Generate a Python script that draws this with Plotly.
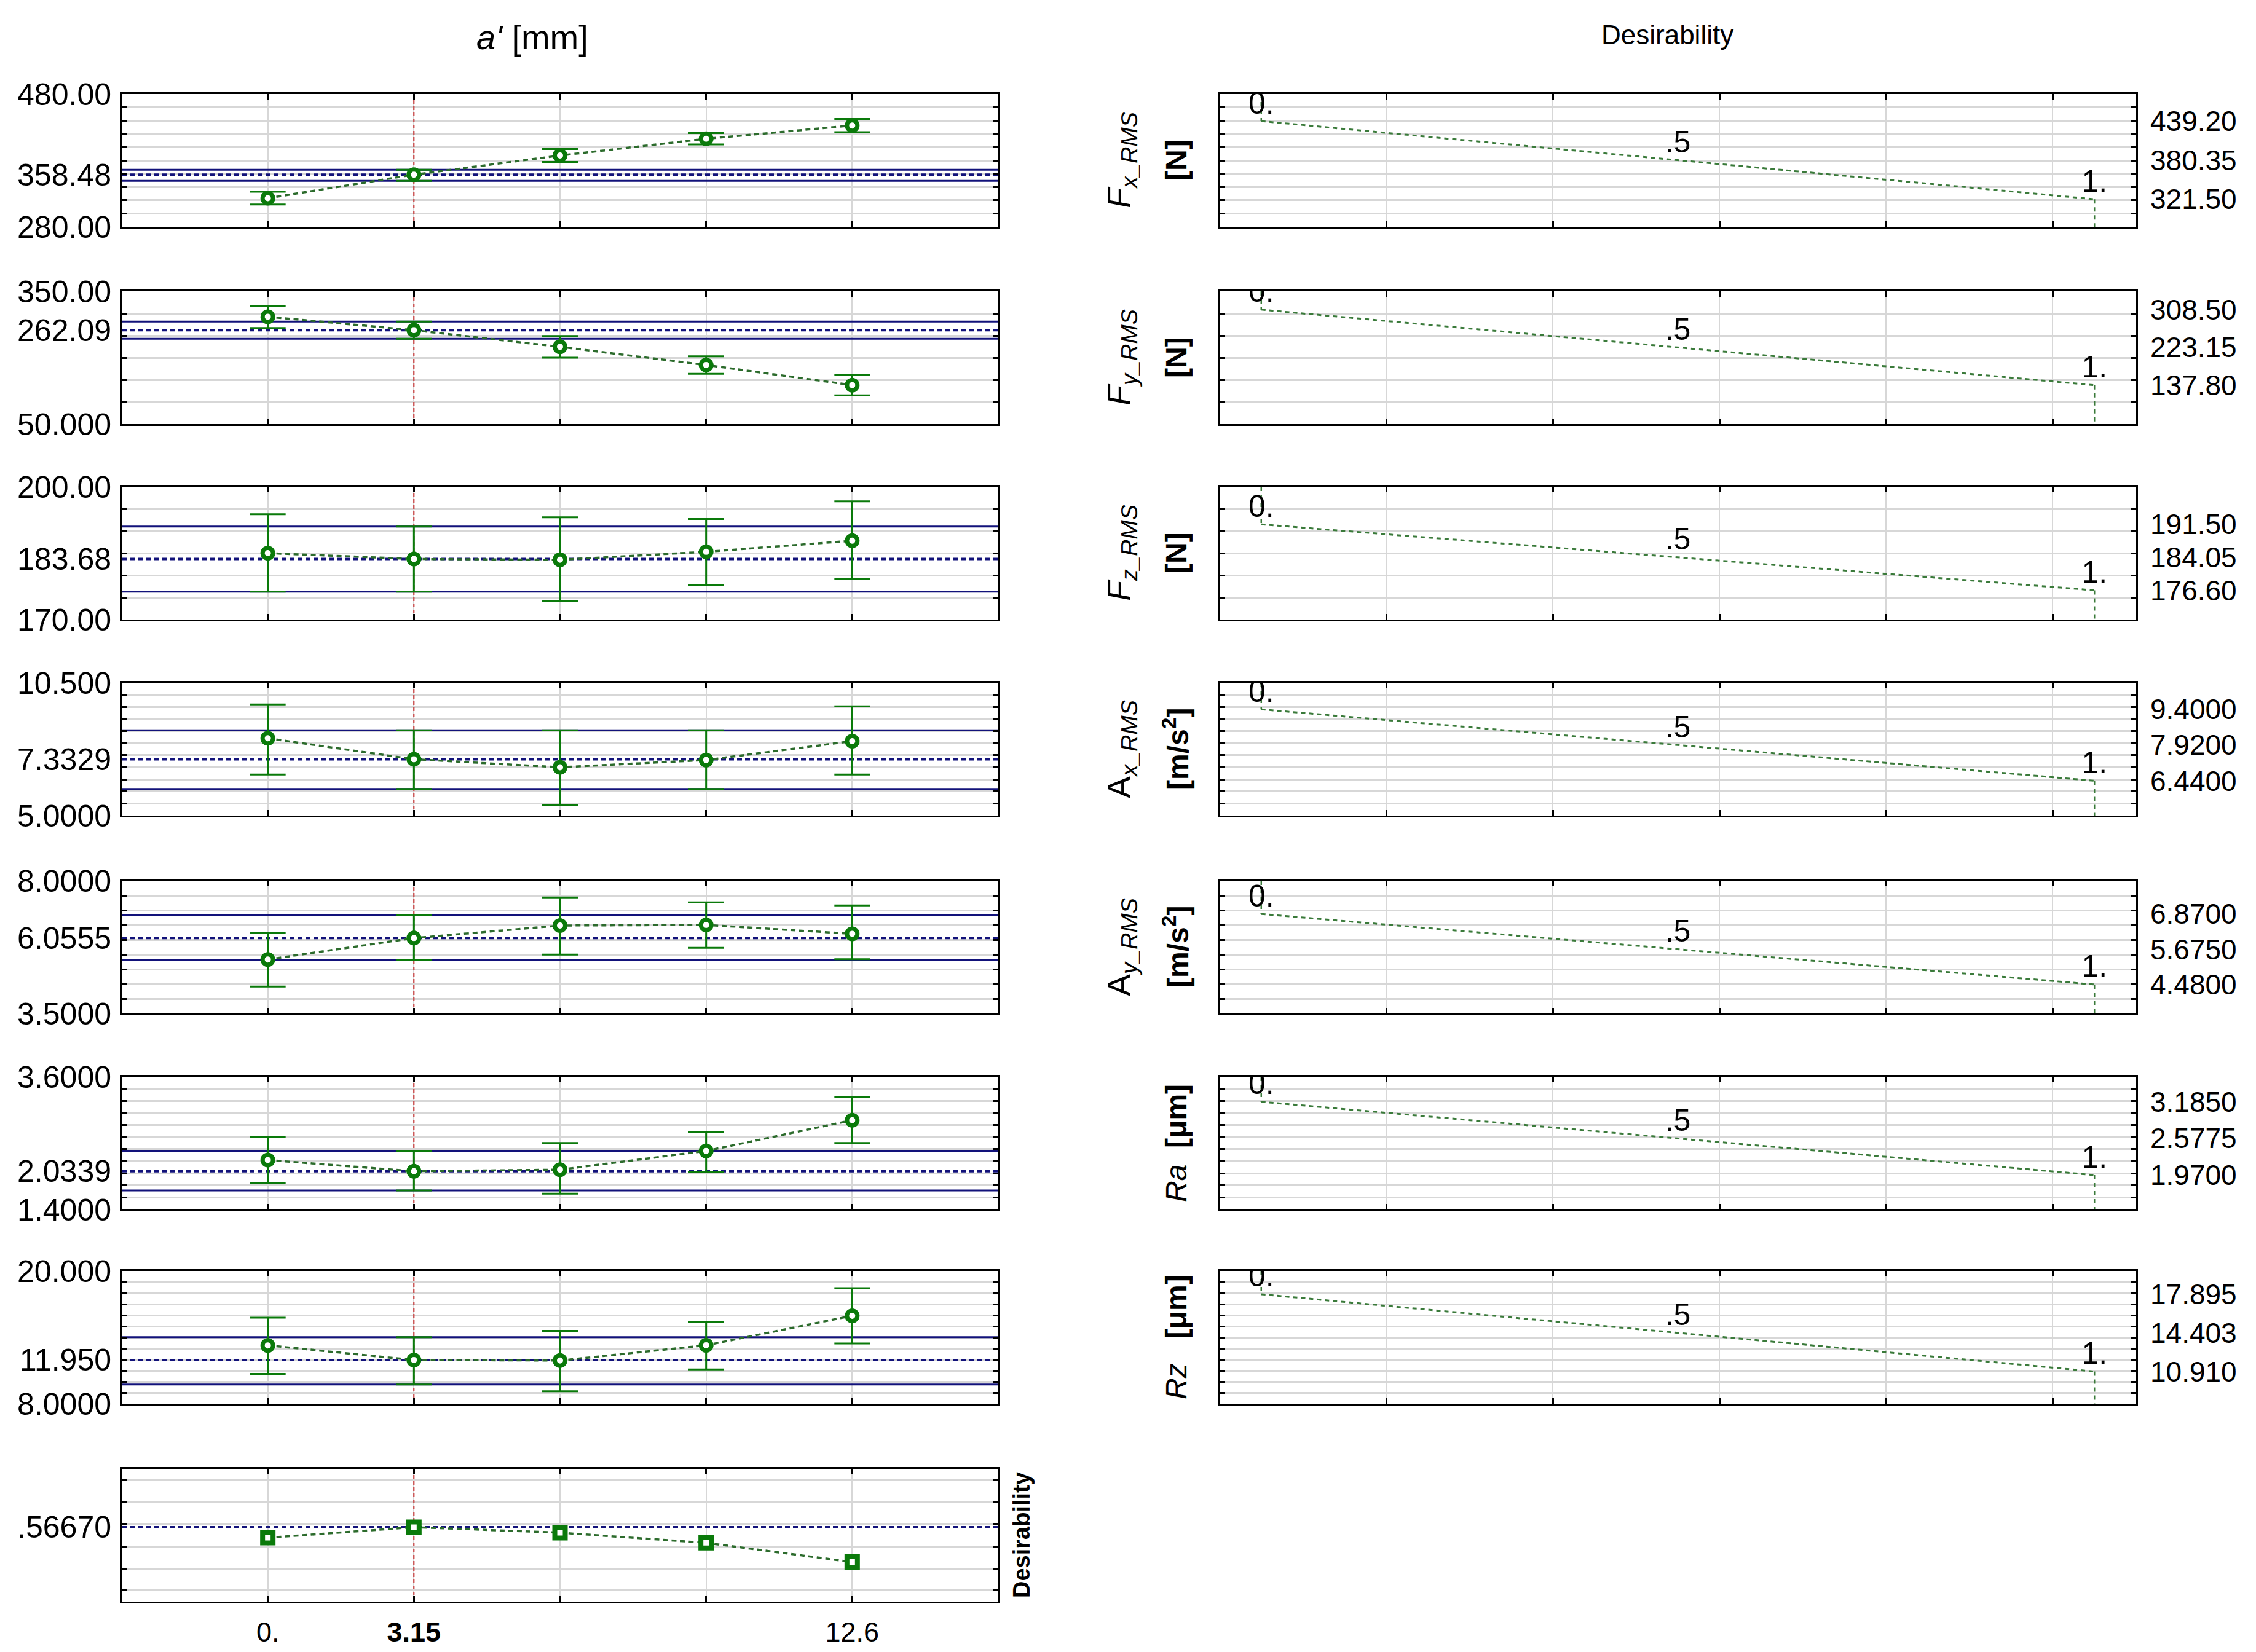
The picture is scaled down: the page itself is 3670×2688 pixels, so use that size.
import plotly.graph_objects as go

FIG_W, FIG_H = 3670, 2688

# ---------------- data ----------------
x_levels = [0.0, 3.15, 6.3, 9.45, 12.6]
x_current = 3.15
x_range = [-3.15, 15.75]
x_label_vals = [0.0, 3.15, 12.6]
x_label_text = ["0.", "<b>3.15</b>", "12.6"]

# Fx_RMS [N]
fx_pred = [323.1, 358.48, 387.4, 412.6, 432.6]
fx_upper = [332.7, 365.9, 397.2, 421.1, 442.5]
fx_lower = [313.5, 349.1, 377.7, 404.0, 422.6]
fx_range = [280.0, 480.0]
fx_grid = [300, 320, 340, 360, 380, 400, 420, 440, 460]
fx_axis_text = ["280.00", "358.48", "480.00"]
fx_desir_vals = [439.20, 380.35, 321.50]
fx_desir_text = ["439.20", "380.35", "321.50"]

# Fy_RMS [N]
fy_pred = [292.5, 262.09, 224.5, 183.5, 138.0]
fy_upper = [316.8, 281.7, 249.1, 203.2, 160.4]
fy_lower = [267.0, 242.8, 200.0, 163.6, 115.1]
fy_range = [50.0, 350.0]
fy_grid = [100, 150, 200, 250, 300]
fy_axis_text = ["50.000", "262.09", "350.00"]
fy_desir_vals = [308.50, 223.15, 137.80]
fy_desir_text = ["308.50", "223.15", "137.80"]

# Fz_RMS [N]
fz_pred = [185.0, 183.68, 183.5, 185.3, 187.8]
fz_upper = [193.8, 191.0, 193.1, 192.7, 196.7]
fz_lower = [176.3, 176.3, 174.1, 177.7, 179.2]
fz_range = [170.0, 200.0]
fz_grid = [175, 180, 185, 190, 195]
fz_axis_text = ["170.00", "183.68", "200.00"]
fz_desir_vals = [191.50, 184.05, 176.60]
fz_desir_text = ["191.50", "184.05", "176.60"]

# Ax_RMS [m/s2]
ax_pred = [8.20, 7.3329, 7.00, 7.30, 8.08]
ax_upper = [9.604, 8.536, 8.536, 8.536, 9.526]
ax_lower = [6.697, 6.100, 5.440, 6.100, 6.697]
ax_range = [5.0, 10.5]
ax_grid = [5.5, 6.0, 6.5, 7.0, 7.5, 8.0, 8.5, 9.0, 9.5, 10.0]
ax_axis_text = ["5.0000", "7.3329", "10.500"]
ax_desir_vals = [9.40, 7.92, 6.44]
ax_desir_text = ["9.4000", "7.9200", "6.4400"]

# Ay_RMS [m/s2]
ay_pred = [5.33, 6.0555, 6.48, 6.50, 6.20]
ay_upper = [6.239, 6.843, 7.434, 7.267, 7.164]
ay_lower = [4.413, 5.300, 5.493, 5.724, 5.339]
ay_range = [3.5, 8.0]
ay_grid = [4.0, 4.5, 5.0, 5.5, 6.0, 6.5, 7.0, 7.5]
ay_axis_text = ["3.5000", "6.0555", "8.0000"]
ay_desir_vals = [6.870, 5.675, 4.480]
ay_desir_text = ["6.8700", "5.6750", "4.4800"]

# Ra [um]
ra_pred = [2.22, 2.0339, 2.06, 2.37, 2.88]
ra_upper = [2.602, 2.365, 2.503, 2.681, 3.258]
ra_lower = [1.840, 1.715, 1.663, 2.024, 2.503]
ra_range = [1.4, 3.6]
ra_grid = [1.6, 1.8, 2.0, 2.2, 2.4, 2.6, 2.8, 3.0, 3.2, 3.4]
ra_axis_text = ["1.4000", "2.0339", "3.6000"]
ra_desir_vals = [3.1850, 2.5775, 1.9700]
ra_desir_text = ["3.1850", "2.5775", "1.9700"]

# Rz [um]
rz_pred = [13.27, 11.95, 11.90, 13.28, 15.95]
rz_upper = [15.78, 14.02, 14.59, 15.42, 18.45]
rz_lower = [10.70, 9.73, 9.12, 11.10, 13.44]
rz_range = [8.0, 20.0]
rz_grid = [9, 10, 11, 12, 13, 14, 15, 16, 17, 18, 19]
rz_axis_text = ["8.0000", "11.950", "20.000"]
rz_desir_vals = [17.895, 14.403, 10.910]
rz_desir_text = ["17.895", "14.403", "10.910"]

# overall desirability
desir_values = [0.479, 0.5667, 0.521, 0.437, 0.278]
desir_current = 0.5667
desir_range = [-0.05, 1.05]
desir_grid = [0.0417, 0.225, 0.4083, 0.5917, 0.775, 0.9583]
desir_axis_text = [".56670"]

# desirability-function panels
d_levels = [0.0, 0.5, 1.0]
d_level_text = ["0.", ".5", "1."]
d_range = [-0.05, 1.05]
d_grid = [0.15, 0.35, 0.55, 0.75, 0.95]

responses = [
    dict(pred=fx_pred, up=fx_upper, lo=fx_lower, rng=fx_range, grid=fx_grid, txt=fx_axis_text,
         dv=fx_desir_vals, dt=fx_desir_text,
         t1="<i>F</i><sub><i>x_RMS</i></sub>", t2="<b>[N]</b>"),
    dict(pred=fy_pred, up=fy_upper, lo=fy_lower, rng=fy_range, grid=fy_grid, txt=fy_axis_text,
         dv=fy_desir_vals, dt=fy_desir_text,
         t1="<i>F</i><sub><i>y_RMS</i></sub>", t2="<b>[N]</b>"),
    dict(pred=fz_pred, up=fz_upper, lo=fz_lower, rng=fz_range, grid=fz_grid, txt=fz_axis_text,
         dv=fz_desir_vals, dt=fz_desir_text,
         t1="<i>F</i><sub><i>z_RMS</i></sub>", t2="<b>[N]</b>"),
    dict(pred=ax_pred, up=ax_upper, lo=ax_lower, rng=ax_range, grid=ax_grid, txt=ax_axis_text,
         dv=ax_desir_vals, dt=ax_desir_text,
         t1="A<sub><i>x_RMS</i></sub>", t2="<b>[m/s<sup>2</sup>]</b>"),
    dict(pred=ay_pred, up=ay_upper, lo=ay_lower, rng=ay_range, grid=ay_grid, txt=ay_axis_text,
         dv=ay_desir_vals, dt=ay_desir_text,
         t1="A<sub><i>y_RMS</i></sub>", t2="<b>[m/s<sup>2</sup>]</b>"),
    dict(pred=ra_pred, up=ra_upper, lo=ra_lower, rng=ra_range, grid=ra_grid, txt=ra_axis_text,
         dv=ra_desir_vals, dt=ra_desir_text,
         t1=None, t2="<i>Ra</i>\u00a0\u00a0<b>[\u03bcm]</b>"),
    dict(pred=rz_pred, up=rz_upper, lo=rz_lower, rng=rz_range, grid=rz_grid, txt=rz_axis_text,
         dv=rz_desir_vals, dt=rz_desir_text,
         t1=None, t2="<i>Rz</i>\u00a0\u00a0\u00a0<b>[\u03bcm]</b>"),
]

# ---------------- styling / layout ----------------
FONT = "Liberation Sans, Arial, sans-serif"
NARROW = ("Liberation Sans Narrow, Arial Narrow, Noto Sans ExtraCondensed, "
          "Noto Sans Condensed, Liberation Sans, Arial, sans-serif")
GREEN = "#0a7a0a"
LINE_GREEN = "#2c6b2c"
NAVY = "#12127a"
RED = "#c41e1e"
GRID = "#d7d7d7"
TICK_FS = 46

LEFT_X = [198 / FIG_W, 1624 / FIG_W]
RIGHT_X = [1984 / FIG_W, 3475 / FIG_W]
PANEL_TOPS = [153, 474, 792, 1111, 1433, 1752, 2068, 2390]
PANEL_H = 216


def ydom(i):
    t = PANEL_TOPS[i]
    return [1 - (t + PANEL_H) / FIG_H, 1 - t / FIG_H]


def px(x):
    return x / FIG_W


def py(y):
    return 1 - y / FIG_H


def grid_minor(vals, gw):
    return dict(tickvals=vals, ticks="inside", ticklen=9, tickwidth=3, tickcolor="black",
                showgrid=True, gridcolor=GRID, gridwidth=gw)


def base_axis(**kw):
    d = dict(showline=True, linecolor="black", linewidth=3, mirror="ticks",
             ticks="inside", ticklen=9, tickwidth=3, tickcolor="black",
             zeroline=False, showgrid=True, gridcolor=GRID, automargin=False,
             tickfont=dict(family=FONT, size=TICK_FS, color="black"),
             fixedrange=True)
    d.update(kw)
    return d


fig = go.Figure()
layout = {}
annotations = []

# ---------- left column: response profiles ----------
for i, r in enumerate(responses):
    n = i + 1
    xa = f"x{n}" if n > 1 else "x"
    ya = f"y{n}" if n > 1 else "y"
    cur_lo, cur_hi = r["lo"][1], r["up"][1]
    for v in (cur_hi, cur_lo):
        fig.add_trace(go.Scatter(x=x_range, y=[v, v], mode="lines", xaxis=xa, yaxis=ya,
                                 line=dict(color=NAVY, width=3), hoverinfo="skip"))
    fig.add_trace(go.Scatter(x=x_range, y=[r["pred"][1]] * 2, mode="lines", xaxis=xa, yaxis=ya,
                             line=dict(color=NAVY, width=4, dash="8px,5px"), hoverinfo="skip"))
    fig.add_trace(go.Scatter(x=[x_current, x_current], y=r["rng"], mode="lines", xaxis=xa, yaxis=ya,
                             line=dict(color=RED, width=2, dash="6px,4px"), hoverinfo="skip"))
    fig.add_trace(go.Scatter(
        x=x_levels, y=r["pred"], mode="lines+markers", xaxis=xa, yaxis=ya,
        line=dict(color=LINE_GREEN, width=3.5, dash="8px,6px"),
        marker=dict(symbol="circle", size=17, color="white", line=dict(color=GREEN, width=7)),
        error_y=dict(type="data", symmetric=False,
                     array=[u - p for u, p in zip(r["up"], r["pred"])],
                     arrayminus=[p - l for p, l in zip(r["pred"], r["lo"])],
                     color=GREEN, thickness=3, width=29),
    ))
    layout["xaxis" if n == 1 else f"xaxis{n}"] = base_axis(
        domain=LEFT_X, range=x_range, anchor=ya, tickvals=x_levels,
        showticklabels=False, gridwidth=2)
    layout["yaxis" if n == 1 else f"yaxis{n}"] = base_axis(
        domain=ydom(i), range=r["rng"], anchor=xa,
        tickvals=[r["rng"][0], r["pred"][1], r["rng"][1]], ticktext=r["txt"],
        ticks="", showgrid=False, minor=grid_minor(r["grid"], 3), ticklabelstandoff=4,
        tickfont=dict(family=NARROW, size=50, color="black"))

# ---------- bottom-left: overall desirability ----------
fig.add_trace(go.Scatter(x=x_range, y=[desir_current] * 2, mode="lines", xaxis="x8", yaxis="y8",
                         line=dict(color=NAVY, width=4, dash="8px,5px"), hoverinfo="skip"))
fig.add_trace(go.Scatter(x=[x_current, x_current], y=desir_range, mode="lines", xaxis="x8", yaxis="y8",
                         line=dict(color=RED, width=2, dash="6px,4px"), hoverinfo="skip"))
fig.add_trace(go.Scatter(
    x=x_levels, y=desir_values, mode="lines+markers", xaxis="x8", yaxis="y8",
    line=dict(color=LINE_GREEN, width=3.5, dash="8px,6px"),
    marker=dict(symbol="square", size=17, color="white", line=dict(color=GREEN, width=8)),
))
layout["xaxis8"] = base_axis(domain=LEFT_X, range=x_range, anchor="y8",
                             tickvals=x_label_vals, ticktext=x_label_text, ticks="", showgrid=False,
                             minor=grid_minor(x_levels, 2), ticklabelstandoff=8,
                             tickfont=dict(family=FONT, size=45, color="black"))
layout["yaxis8"] = base_axis(domain=ydom(7), range=desir_range, anchor="x8",
                             tickvals=[desir_current], ticktext=desir_axis_text, ticks="",
                             showgrid=False, minor=grid_minor(desir_grid, 3), ticklabelstandoff=4,
                             tickfont=dict(family=NARROW, size=50, color="black"))

# ---------- right column: desirability functions ----------
for j, r in enumerate(responses):
    n = 9 + j
    m = 16 + j
    xa, ya, yb = f"x{n}", f"y{n}", f"y{m}"
    lo_r, hi_r = r["rng"]
    fig.add_trace(go.Scatter(x=d_levels, y=r["dv"], mode="lines", xaxis=xa, yaxis=ya,
                             line=dict(color="#3a7a3a", width=3, dash="7px,6px"), hoverinfo="skip"))
    fig.add_trace(go.Scatter(x=[d_levels[-1], d_levels[-1]], y=[r["dv"][-1], lo_r], mode="lines",
                             xaxis=xa, yaxis=ya,
                             line=dict(color="#3a7a3a", width=2.5, dash="7px,6px"), hoverinfo="skip"))
    fig.add_trace(go.Scatter(x=[d_levels[0], d_levels[0]], y=[hi_r, r["dv"][0]], mode="lines",
                             xaxis=xa, yaxis=ya,
                             line=dict(color="#3a7a3a", width=2.5, dash="7px,6px"), hoverinfo="skip"))
    fig.add_trace(go.Scatter(x=d_levels, y=r["dv"], mode="text", text=d_level_text,
                             textposition="top center", xaxis=xa, yaxis=yb, cliponaxis=True,
                             textfont=dict(family=FONT, size=50, color="black"), hoverinfo="skip"))
    layout[f"xaxis{n}"] = base_axis(domain=RIGHT_X, range=d_range, anchor=ya, tickvals=d_grid,
                                    showticklabels=False, gridwidth=2)
    layout[f"yaxis{n}"] = base_axis(domain=ydom(j), range=r["rng"], anchor=xa,
                                    tickvals=r["grid"], showticklabels=False, gridwidth=3)
    layout[f"yaxis{m}"] = dict(overlaying=ya, anchor=xa, side="right", range=r["rng"],
                               tickvals=r["dv"], ticktext=r["dt"], showgrid=False, showline=False,
                               zeroline=False, ticks="", ticklabelstandoff=22, fixedrange=True,
                               automargin=False,
                               tickfont=dict(family=FONT, size=TICK_FS, color="black"))
    yc = PANEL_TOPS[j] + PANEL_H / 2
    if r["t1"] is not None:
        annotations.append(dict(text=r["t1"], x=px(1824), y=py(yc), xref="paper", yref="paper",
                                textangle=-90, showarrow=False, xanchor="center", yanchor="middle",
                                font=dict(family=FONT, size=54, color="black")))
    annotations.append(dict(text=r["t2"], x=px(1913), y=py(yc), xref="paper", yref="paper",
                            textangle=-90, showarrow=False, xanchor="center", yanchor="middle",
                            font=dict(family=FONT, size=48, color="black")))

# titles
annotations.append(dict(text="<i>a'</i> [mm]", x=px(866), y=py(60), xref="paper", yref="paper",
                        showarrow=False, xanchor="center", yanchor="middle",
                        font=dict(family=FONT, size=56, color="black")))
annotations.append(dict(text="Desirability", x=px(2712), y=py(56), xref="paper", yref="paper",
                        showarrow=False, xanchor="center", yanchor="middle",
                        font=dict(family=FONT, size=44, color="black")))
annotations.append(dict(text="<b>Desirability</b>", x=px(1662), y=py(PANEL_TOPS[7] + PANEL_H / 2),
                        xref="paper", yref="paper", textangle=-90, showarrow=False,
                        xanchor="center", yanchor="middle",
                        font=dict(family=FONT, size=38, color="black")))

fig.update_layout(
    width=FIG_W, height=FIG_H, margin=dict(l=0, r=0, t=0, b=0, pad=0, autoexpand=False),
    paper_bgcolor="white", plot_bgcolor="white", showlegend=False,
    annotations=annotations, **layout,
)

fig.write_html("out.html", config={"displayModeBar": False, "staticPlot": True},
               post_script="document.body.style.margin='0px';document.body.style.overflow='hidden';")
